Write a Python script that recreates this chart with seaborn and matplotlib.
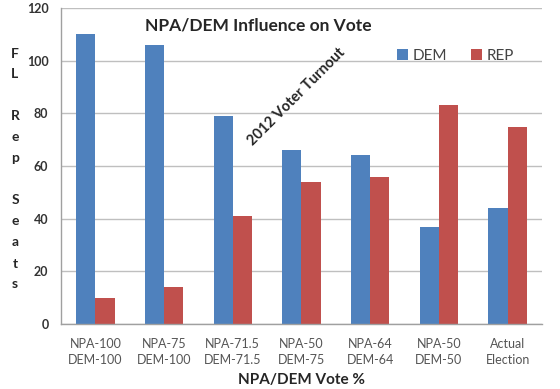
import matplotlib
matplotlib.use("Agg")
import matplotlib.pyplot as plt
import pandas as pd
import seaborn as sns

categories = ["NPA-100\nDEM-100", "NPA-75\nDEM-100", "NPA-71.5\nDEM-71.5",
              "NPA-50\nDEM-75", "NPA-64\nDEM-64", "NPA-50\nDEM-50", "Actual\nElection"]
dem_seats = [110, 106, 79, 66, 64, 37, 44]
rep_seats = [10, 14, 41, 54, 56, 83, 75]
parties = ["DEM", "REP"]
y_ticks = [0, 20, 40, 60, 80, 100, 120]

df = pd.DataFrame({
    "scenario": categories * 2,
    "party": ["DEM"] * len(categories) + ["REP"] * len(categories),
    "seats": dem_seats + rep_seats,
})

sns.set_style("white")
plt.rcParams["font.family"] = ["Lato", "DejaVu Sans"]

fig = plt.figure(figsize=(5.6, 3.89), dpi=100)
ax = fig.add_axes([61 / 560, 1 - 324 / 389, (542 - 61) / 560, (324 - 8) / 389])

palette = {"DEM": "#4F81BD", "REP": "#C0504D"}
sns.barplot(data=df, x="scenario", y="seats", hue="party", hue_order=parties,
            palette=palette, width=0.56, gap=0, saturation=1, ax=ax,
            edgecolor="none")

ax.set_ylim(0, 120)
ax.set_xlim(-0.5, len(categories) - 0.5)
ax.set_yticks(y_ticks)
ax.set_yticklabels([str(v) for v in y_ticks], fontsize=9, fontweight="bold", color="#333333")
ax.yaxis.grid(True, color="#BFBFBF", linewidth=1)
ax.set_axisbelow(True)
ax.tick_params(axis="y", length=4, color="#A0A0A0", pad=5)
ax.set_xticks(range(len(categories)))
ax.set_xticklabels(categories, linespacing=1.45)
ax.tick_params(axis="x", length=0, labelsize=9, labelcolor="#555555", pad=10)
ax.set_xticks([i - 0.5 for i in range(len(categories) + 1)], minor=True)
ax.tick_params(axis="x", which="minor", length=4, color="#A0A0A0")

for side in ["top", "right"]:
    ax.spines[side].set_visible(False)
for side in ["left", "bottom"]:
    ax.spines[side].set_color("#A0A0A0")
    ax.spines[side].set_linewidth(1)

ax.set_xlabel("NPA/DEM Vote %", fontsize=11, fontweight="bold")
ax.xaxis.set_label_coords(0.5, -0.155)
ax.set_ylabel("")

# stacked vertical y-label
fig.text(15 / 560, 1 - 169 / 389, "F\nL\n\nR\ne\np\n\nS\ne\na\nt\ns",
         ha="center", va="center", fontsize=10, fontweight="bold", linespacing=1.9)

ax.text(0.41, 0.945, "NPA/DEM Influence on Vote", transform=ax.transAxes,
        ha="center", va="center", fontsize=12.5, fontweight="bold")
ax.text(0.49, 0.72, "2012 Voter Turnout", transform=ax.transAxes, rotation=45,
        ha="center", va="center", fontsize=10.5, fontweight="bold")

leg = ax.legend(loc="upper right", bbox_to_anchor=(0.97, 0.915), ncol=2, frameon=False,
                fontsize=11, handlelength=0.7, handleheight=0.7, handletextpad=0.3,
                columnspacing=1.6)
for t in leg.get_texts():
    t.set_color("#444444")

fig.savefig("out.png", dpi=100)
